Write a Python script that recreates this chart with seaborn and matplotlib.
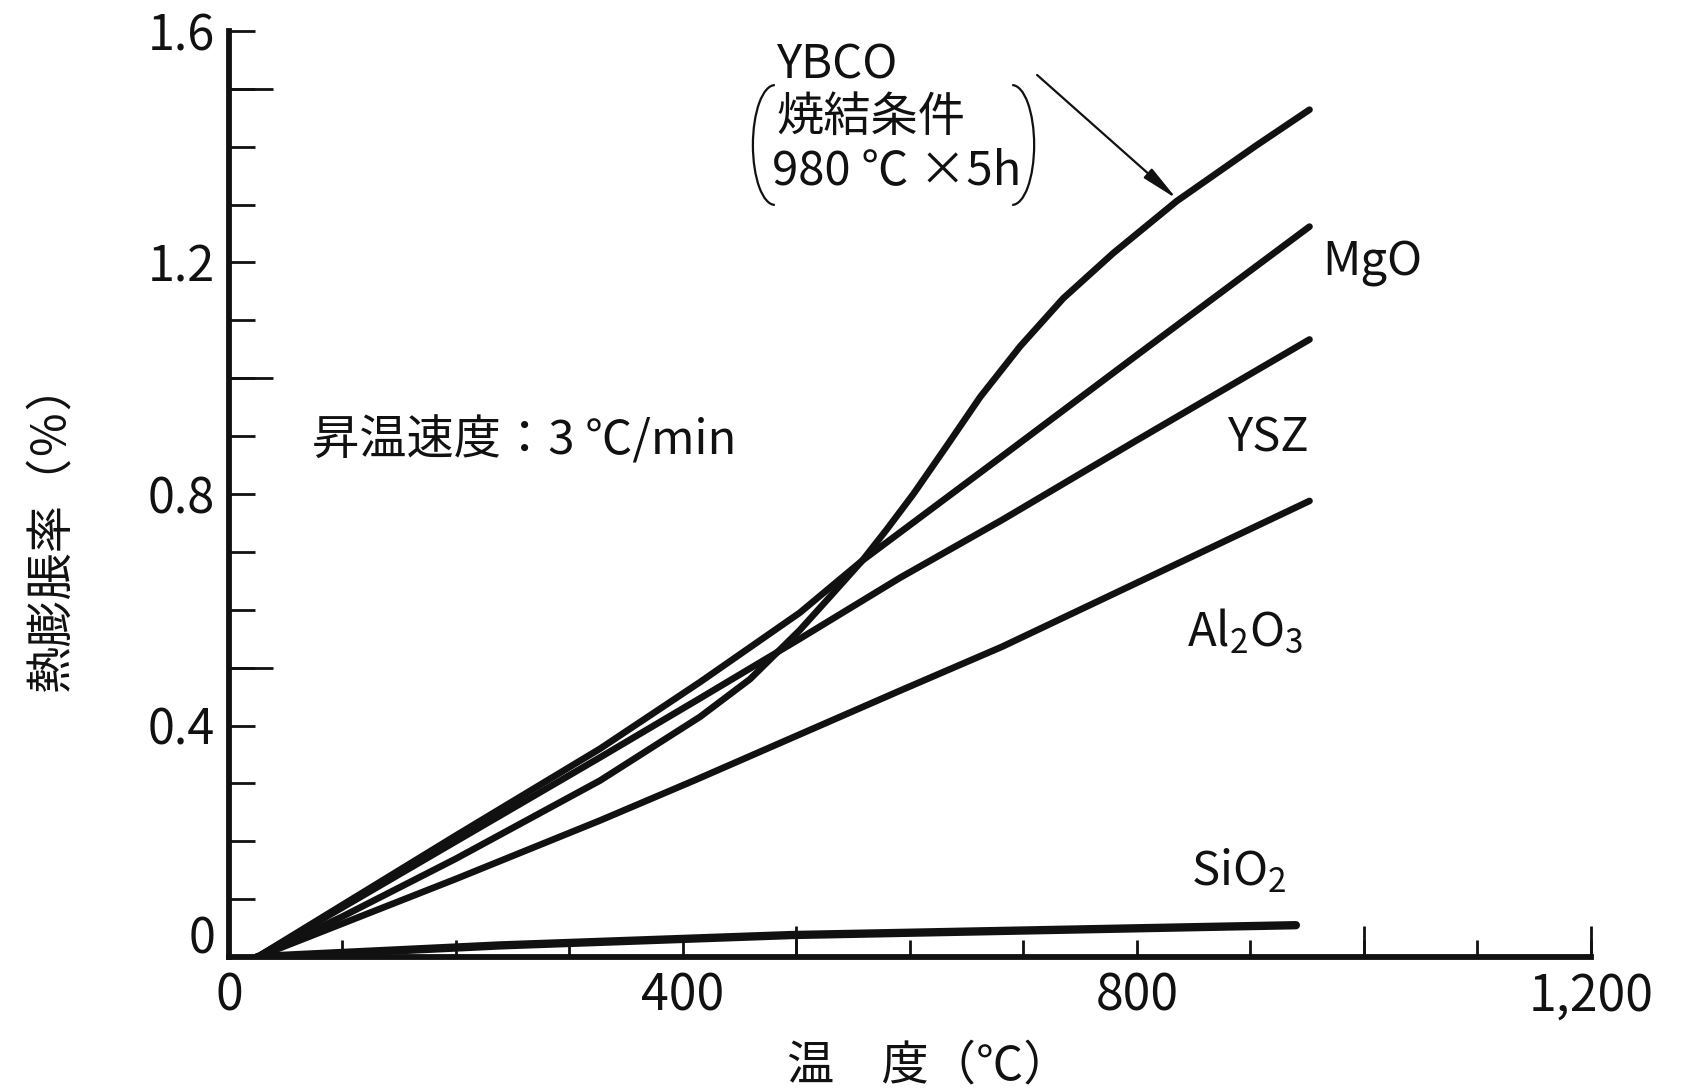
import numpy as np
import pandas as pd
import seaborn as sns
import matplotlib.pyplot as plt
from matplotlib.patches import Arc

# values: temperature (deg C) vs thermal expansion (%)
ybco_t = [25, 100, 200, 327, 415, 459, 503, 532, 558, 580, 603, 632, 662, 697, 735, 779, 835, 905, 952]
ybco_v = [0, 0.07, 0.17, 0.305, 0.415, 0.48, 0.565, 0.628, 0.685, 0.74, 0.80, 0.882, 0.968, 1.055, 1.138, 1.216, 1.306, 1.402, 1.464]
mgo_t = [25, 200, 327, 415, 503, 558, 681, 800, 952]
mgo_v = [0, 0.21, 0.36, 0.475, 0.595, 0.685, 0.865, 1.04, 1.262]
ysz_t = [25, 200, 327, 415, 503, 591, 681, 800, 952]
ysz_v = [0, 0.20, 0.345, 0.447, 0.55, 0.655, 0.755, 0.893, 1.067]
al2o3_t = [25, 200, 327, 411, 591, 681, 952]
al2o3_v = [0, 0.135, 0.236, 0.306, 0.46, 0.536, 0.788]
sio2_t = [25, 238, 496, 940]
sio2_v = [0, 0.02, 0.038, 0.055]

x_ticks = list(range(0, 1201, 100))
x_named = {0: '0', 400: '400', 800: '800', 1200: '1,200'}
x_labels = [x_named.get(t, '') for t in x_ticks]
y_ticks = [round(0.1 * i, 1) for i in range(17)]
y_named = {1.6: '1.6', 1.2: '1.2', 0.8: '0.8', 0.4: '0.4'}
y_labels = [y_named.get(t, '') for t in y_ticks]

sns.set_style("white")
plt.rcParams['font.family'] = ['Noto Sans CJK JP', 'DejaVu Sans']
plt.rcParams['mathtext.fontset'] = 'custom'
plt.rcParams['mathtext.rm'] = 'Noto Sans CJK JP'

ink = '#111111'
fig = plt.figure(figsize=(16.85, 10.91), dpi=100)
ax = fig.add_axes([0.1359, 0.1228, 0.8083, 0.8488])

curves = [
    ('YBCO', ybco_t, ybco_v, 4.8),
    ('MgO', mgo_t, mgo_v, 4.8),
    ('YSZ', ysz_t, ysz_v, 4.8),
    ('Al2O3', al2o3_t, al2o3_v, 4.8),
    ('SiO2', sio2_t, sio2_v, 6.0),
]
for name, t, v, lw in curves:
    df = pd.DataFrame({'temp': t, 'exp': v})
    sns.lineplot(data=df, x='temp', y='exp', ax=ax, color=ink, lw=lw,
                 estimator=None, sort=False, legend=False,
                 solid_capstyle='round', solid_joinstyle='round')

ax.set_xlim(0, 1200)
ax.set_ylim(0, 1.6)
ax.set_xlabel('')
ax.set_ylabel('')
for s in ['top', 'right']:
    ax.spines[s].set_visible(False)
for s in ['left', 'bottom']:
    ax.spines[s].set_linewidth(4.2)
    ax.spines[s].set_color(ink)

# long ticks share positions with short ones, keep both
ax.xaxis.remove_overlapping_locs = False
ax.yaxis.remove_overlapping_locs = False
ax.set_xticks(x_ticks)
ax.set_xticklabels(x_labels, fontsize=36, color=ink)
ax.set_xticks([500, 1000, 1200], minor=True)
ax.set_yticks(y_ticks)
ax.set_yticklabels(y_labels, fontsize=35, color=ink)
ax.set_yticks([0.5, 1.0, 1.5], minor=True)
ax.tick_params(bottom=True, left=True, which='both')
ax.tick_params(axis='x', which='major', direction='in', length=12, width=2, pad=10, colors=ink)
ax.tick_params(axis='x', which='minor', direction='in', length=22, width=2, colors=ink)
ax.tick_params(axis='y', which='major', direction='in', length=19, width=2, pad=10, colors=ink)
ax.tick_params(axis='y', which='minor', direction='in', length=32, width=2, colors=ink)
# y "0" sits a little above the axis line
ax.text(-12, 0.03, '0', fontsize=35, ha='right', va='center', color=ink)

fs = 34
ax.text(73, 0.892, '昇温速度：3 ℃/min', fontsize=fs, ha='left', va='center', color=ink)
ax.text(482, 1.540, 'YBCO', fontsize=fs, ha='left', va='center', color=ink)
ax.text(482, 1.450, '焼結条件', fontsize=fs, ha='left', va='center', color=ink)
ax.text(478, 1.358, '980 ℃ ×5h', fontsize=fs, ha='left', va='center', color=ink)
ax.add_patch(Arc((481, 1.403), 38.8, 0.207, theta1=115, theta2=245, lw=1.6, color=ink, clip_on=False))
ax.add_patch(Arc((690, 1.403), 38.8, 0.207, theta1=-65, theta2=65, lw=1.6, color=ink, clip_on=False))
ax.annotate('', xy=(835, 1.31), xytext=(712, 1.524),
            arrowprops=dict(arrowstyle='-|>,head_length=0.9,head_width=0.15', lw=1.6, color=ink,
                            mutation_scale=25, shrinkA=0, shrinkB=0))

ax.text(963, 1.199, 'MgO', fontsize=fs, ha='left', va='center', color=ink)
ax.text(951, 0.896, 'YSZ', fontsize=fs, ha='right', va='center', color=ink)
ax.text(844, 0.562, 'Al$_{\\mathregular{2}}$O$_{\\mathregular{3}}$', fontsize=fs, ha='left', va='center', color=ink)
ax.text(848, 0.146, 'SiO$_{\\mathregular{2}}$', fontsize=fs, ha='left', va='center', color=ink)

fig.text(0.5513, 0.0229, '温　度（℃）', fontsize=fs, ha='center', va='center', color=ink)
fig.text(0.0303, 0.517, '熱膨脹率（％）', fontsize=fs, rotation=90, ha='center', va='center', color=ink)

fig.savefig('out.png', dpi=100, facecolor='white')
